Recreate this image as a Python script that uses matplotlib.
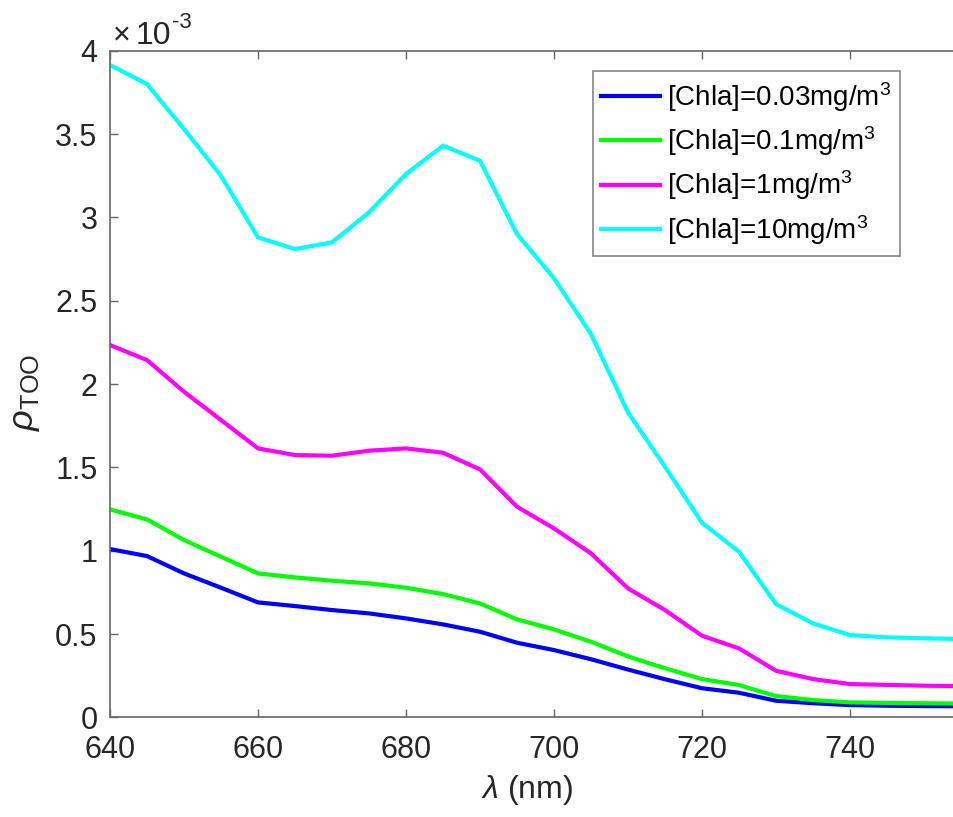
import numpy as np
import matplotlib
matplotlib.use("Agg")
import matplotlib.pyplot as plt
from matplotlib.ticker import FixedLocator, FuncFormatter

# ---- data (rho_TOO in units of 1e-3) ----
wavelength = [640, 645, 650, 655, 660, 665, 670, 675, 680, 685, 690, 695,
              700, 705, 710, 715, 720, 725, 730, 735, 740, 745, 750, 755]
chla_003 = [1.01, 0.968, 0.864, 0.778, 0.69, 0.668, 0.644, 0.624, 0.594, 0.558, 0.514, 0.448,
            0.404, 0.349, 0.287, 0.229, 0.175, 0.148, 0.10, 0.085, 0.074, 0.07, 0.068, 0.067]
chla_01 = [1.248, 1.188, 1.064, 0.964, 0.864, 0.84, 0.82, 0.804, 0.778, 0.74, 0.684, 0.588,
           0.528, 0.454, 0.366, 0.295, 0.23, 0.194, 0.128, 0.104, 0.09, 0.087, 0.085, 0.083]
chla_1 = [2.234, 2.144, 1.954, 1.784, 1.614, 1.574, 1.57, 1.60, 1.614, 1.588, 1.488, 1.264,
          1.134, 0.984, 0.774, 0.644, 0.49, 0.414, 0.28, 0.23, 0.20, 0.195, 0.19, 0.188]
chla_10 = [3.914, 3.80, 3.53, 3.25, 2.88, 2.81, 2.85, 3.03, 3.26, 3.43, 3.34, 2.90,
           2.635, 2.30, 1.83, 1.504, 1.168, 0.994, 0.68, 0.564, 0.494, 0.48, 0.475, 0.47]
labels = [r'[Chla]=0.03mg/m$^3$', r'[Chla]=0.1mg/m$^3$', r'[Chla]=1mg/m$^3$', r'[Chla]=10mg/m$^3$']
colors = ['#0000ff', '#00ff00', '#ff00ff', '#00ffff']
x_ticks = [640, 660, 680, 700, 720, 740]
y_ticks = [0, 0.5, 1, 1.5, 2, 2.5, 3, 3.5, 4]
SCALE = 1e-3

plt.rcParams['font.family'] = ['Liberation Sans', 'DejaVu Sans']
plt.rcParams['mathtext.fontset'] = 'custom'
plt.rcParams['mathtext.rm'] = 'Liberation Sans'
plt.rcParams['mathtext.it'] = 'Liberation Sans:italic'
plt.rcParams['mathtext.default'] = 'regular'

W, H = 954, 817
fig = plt.figure(figsize=(W / 100, H / 100), dpi=100)
ax = fig.add_axes([110 / W, (H - 717.4) / H, 851 / W, 666.7 / H])

x = np.array(wavelength)
for ys, c, lab in zip([chla_003, chla_01, chla_1, chla_10], colors, labels):
    ax.plot(x, np.array(ys) * SCALE, color=c, lw=3.0, label=lab, solid_joinstyle='miter')

ax.set_xlim(640, 755)
ax.set_ylim(0, 4 * SCALE)
ax.xaxis.set_major_locator(FixedLocator(x_ticks))
ax.yaxis.set_major_locator(FixedLocator([v * SCALE for v in y_ticks]))
ax.yaxis.set_major_formatter(FuncFormatter(lambda v, p: f"{v / SCALE:g}"))

axis_col = '#666666'
txt_col = '#262626'
for s in ax.spines.values():
    s.set_color(axis_col)
    s.set_linewidth(1.2)
ax.tick_params(direction='in', length=6, width=1.0, color=axis_col,
               top=True, right=True, labelsize=22, labelcolor=txt_col)
ax.tick_params(axis='y', pad=9)
ax.tick_params(axis='x', pad=13)

ax.set_xlabel(r'$\mathit{\lambda}$ (nm)', fontsize=23, color=txt_col)
ax.xaxis.set_label_coords(0.49, -0.083)
ax.set_ylabel(r'$\mathit{\rho}_{\mathrm{TOO}}$', fontsize=26, color=txt_col)
ax.yaxis.set_label_coords(-0.080, 0.487)

# exponent label "x10^-3" (hyphen-style minus as in the reference)
fig.text(113 / W, (H - 44) / H, '×', fontsize=22, color=txt_col, ha='left', va='baseline')
fig.text(136 / W, (H - 44) / H, '10', fontsize=23, color=txt_col, ha='left', va='baseline')
fig.text(172 / W, (H - 28) / H, '-3', fontsize=16, color=txt_col, ha='left', va='baseline')

leg = ax.legend(loc='upper right', bbox_to_anchor=(900 / W, (H - 71) / H),
                bbox_transform=fig.transFigure, borderaxespad=0, fontsize=20,
                frameon=True, fancybox=False, handlelength=2.1, handletextpad=0.25,
                labelspacing=0.38, borderpad=0.32)
leg.get_frame().set_edgecolor(axis_col)
leg.get_frame().set_linewidth(1.2)
for t in leg.get_texts():
    t.set_color('black')

fig.savefig('out.png', dpi=100)
